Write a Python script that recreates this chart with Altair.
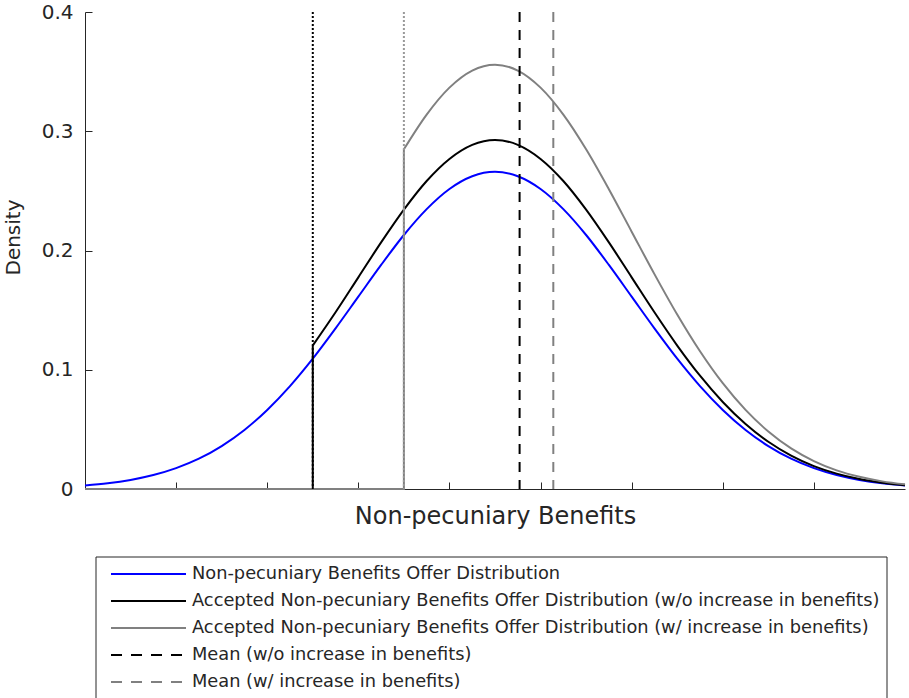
import altair as alt
import pandas as pd

# ---------------- data ----------------
x_grid = [0.0, 0.25, 0.5, 0.75, 1.0, 1.25, 1.5, 1.75, 2.0, 2.25, 2.5, 2.75,
          3.0, 3.25, 3.5, 3.75, 4.0, 4.25, 4.5, 4.75, 5.0, 5.25, 5.5, 5.75,
          6.0, 6.25, 6.5, 6.75, 7.0, 7.25, 7.5, 7.75, 8.0, 8.25, 8.5, 8.75, 9.0]

offer_density = [0.0030, 0.0048, 0.0076, 0.0117, 0.0175, 0.0254, 0.0360, 0.0495,
                 0.0663, 0.0863, 0.1093, 0.1347, 0.1613, 0.1879, 0.2130, 0.2347,
                 0.2516, 0.2623, 0.2660, 0.2623, 0.2516, 0.2347, 0.2130, 0.1879,
                 0.1613, 0.1347, 0.1093, 0.0863, 0.0663, 0.0495, 0.0360, 0.0254,
                 0.0175, 0.0117, 0.0076, 0.0048, 0.0030]

threshold_wo = 2.5   # acceptance threshold without increase in benefits
threshold_w = 3.5    # acceptance threshold with increase in benefits

# accepted densities from the threshold upward (x = threshold ... 9)
accepted_wo = [0.1203, 0.1482, 0.1775, 0.2068, 0.2343, 0.2583, 0.2768, 0.2886,
               0.2927, 0.2886, 0.2768, 0.2583, 0.2343, 0.2068, 0.1775, 0.1482,
               0.1203, 0.0950, 0.0730, 0.0545, 0.0396, 0.0280, 0.0192, 0.0129,
               0.0084, 0.0053, 0.0032]
accepted_w = [0.2849, 0.3140, 0.3366, 0.3509, 0.3558, 0.3509, 0.3366, 0.3140,
              0.2849, 0.2514, 0.2158, 0.1802, 0.1463, 0.1155, 0.0887, 0.0663,
              0.0482, 0.0340, 0.0234, 0.0156, 0.0102, 0.0064, 0.0039]

mean_wo = 4.77
mean_w = 5.14

x_ticks = [1, 2, 3, 4, 5, 6, 7, 8]
y_ticks = [0, 0.1, 0.2, 0.3, 0.4]
x_domain = [0, 9]
y_domain = [0, 0.4]

legend_labels = [
    "Non-pecuniary Benefits Offer Distribution",
    "Accepted Non-pecuniary Benefits Offer Distribution (w/o increase in benefits)",
    "Accepted Non-pecuniary Benefits Offer Distribution (w/ increase in benefits)",
    "Mean (w/o increase in benefits)",
    "Mean (w/ increase in benefits)",
]

# ---------------- styling ----------------
W, H = 820, 477
BLUE, BLACK, GRAY, AXC = "#0000ff", "#000000", "#808080", "#262626"
FONT = "DejaVu Sans"
legend_colors = [BLUE, BLACK, GRAY, BLACK, GRAY]
legend_dash = [None, None, None, [11, 9], [11, 9]]

xs = alt.Scale(domain=x_domain, nice=False, zero=False)
ys = alt.Scale(domain=y_domain, nice=False, zero=False)

# ---------------- tables ----------------
i_wo = x_grid.index(threshold_wo)
i_w = x_grid.index(threshold_w)

blue_df = pd.DataFrame({"x": x_grid, "y": offer_density})
wo_curve = pd.DataFrame({"x": x_grid[i_wo:], "y": accepted_wo})
w_curve = pd.DataFrame({"x": x_grid[i_w:], "y": accepted_w})
wo_zero = pd.DataFrame({"x": [x_grid[0], threshold_wo, threshold_wo],
                        "y": [0, 0, accepted_wo[0]], "o": [0, 1, 2]})
w_zero = pd.DataFrame({"x": [x_grid[0], threshold_w, threshold_w],
                       "y": [0, 0, accepted_w[0]], "o": [0, 1, 2]})
one = pd.DataFrame({"a": [0]})

# ---------------- layers ----------------
blue = alt.Chart(blue_df).mark_line(color=BLUE, strokeWidth=2, interpolate="monotone").encode(
    x=alt.X("x:Q", scale=xs, axis=alt.Axis(
        orient="bottom", ticks=False, labels=False, domain=True, domainColor=AXC,
        grid=False, title="Non-pecuniary Benefits", titleFont=FONT, titleFontSize=24,
        titleFontWeight="normal", titleColor=AXC, titleY=34, titleBaseline="alphabetic")),
    y=alt.Y("y:Q", scale=ys, axis=alt.Axis(
        orient="left", ticks=False, values=y_ticks, grid=False,
        labelExpr="datum.value == 0 ? '0' : format(datum.value, '.1f')",
        labelFont=FONT, labelFontSize=20, labelColor=AXC, labelPadding=12,
        domainColor=AXC, title="Density", titleFont=FONT, titleFontSize=20,
        titleFontWeight="normal", titleColor=AXC, titleX=-66, titleY=225,
        titleAngle=270, titleBaseline="alphabetic", titleAlign="center")),
)

black_zero = alt.Chart(wo_zero).mark_line(color=BLACK, strokeWidth=2).encode(
    x=alt.X("x:Q", scale=xs, axis=alt.Axis(
        orient="top", offset=-H, domain=False, labels=False, ticks=True, tickSize=7,
        tickColor=AXC, values=x_ticks, grid=False, title=None)),
    y=alt.Y("y:Q", scale=ys, axis=alt.Axis(
        orient="right", offset=-W, domain=False, labels=False, ticks=True, tickSize=7,
        tickColor=AXC, values=y_ticks, grid=False, title=None)),
    order="o:Q",
)
black_curve = alt.Chart(wo_curve).mark_line(color=BLACK, strokeWidth=2, interpolate="monotone").encode(
    x=alt.X("x:Q", scale=xs, axis=None), y=alt.Y("y:Q", scale=ys, axis=None))
gray_zero = alt.Chart(w_zero).mark_line(color=GRAY, strokeWidth=2).encode(
    x=alt.X("x:Q", scale=xs, axis=None), y=alt.Y("y:Q", scale=ys, axis=None), order="o:Q")
gray_curve = alt.Chart(w_curve).mark_line(color=GRAY, strokeWidth=2, interpolate="monotone").encode(
    x=alt.X("x:Q", scale=xs, axis=None), y=alt.Y("y:Q", scale=ys, axis=None))

thr_black = alt.Chart(pd.DataFrame({"x": [threshold_wo]})).mark_rule(
    color=BLACK, strokeWidth=2, strokeDash=[2, 2]).encode(x=alt.X("x:Q", scale=xs, axis=None))
thr_gray = alt.Chart(pd.DataFrame({"x": [threshold_w]})).mark_rule(
    color="#999999", strokeWidth=2, strokeDash=[2, 2]).encode(x=alt.X("x:Q", scale=xs, axis=None))
mean_black = alt.Chart(pd.DataFrame({"x": [mean_wo]})).mark_rule(
    color=BLACK, strokeWidth=2, strokeDash=[10, 8]).encode(x=alt.X("x:Q", scale=xs, axis=None))
mean_gray = alt.Chart(pd.DataFrame({"x": [mean_w]})).mark_rule(
    color=GRAY, strokeWidth=2, strokeDash=[10, 8]).encode(x=alt.X("x:Q", scale=xs, axis=None))

layers = [blue, black_zero, black_curve, gray_zero, gray_curve,
          thr_black, thr_gray, mean_black, mean_gray]

# ---------------- legend box ----------------
layers.append(alt.Chart(one).mark_rect(fill="white", stroke=AXC, strokeWidth=1).encode(
    x=alt.value(11), x2=alt.value(802), y=alt.value(545), y2=alt.value(700)))
row_y0, row_step = 562, 27
for k, (lab, col, dash) in enumerate(zip(legend_labels, legend_colors, legend_dash)):
    yy = row_y0 + k * row_step
    rule_kw = dict(color=col, strokeWidth=2)
    if dash is not None:
        rule_kw["strokeDash"] = dash
    layers.append(alt.Chart(one).mark_rule(**rule_kw).encode(
        x=alt.value(26), x2=alt.value(101), y=alt.value(yy)))
    layers.append(alt.Chart(one).mark_text(
        align="left", baseline="middle", font=FONT, fontSize=17.8, color=AXC).encode(
        x=alt.value(107), y=alt.value(yy), text=alt.value(lab)))

chart = alt.layer(*layers).resolve_scale(
    x="independent", y="independent").resolve_axis(
    x="independent", y="independent").properties(
    width=W, height=H,
    autosize=alt.AutoSizeParams(type="none"),
    padding={"left": 85, "top": 12, "right": 4, "bottom": 209},
    background="white",
).configure_view(stroke="transparent")

chart.save("out.html", embed_options={"renderer": "svg", "actions": False})
